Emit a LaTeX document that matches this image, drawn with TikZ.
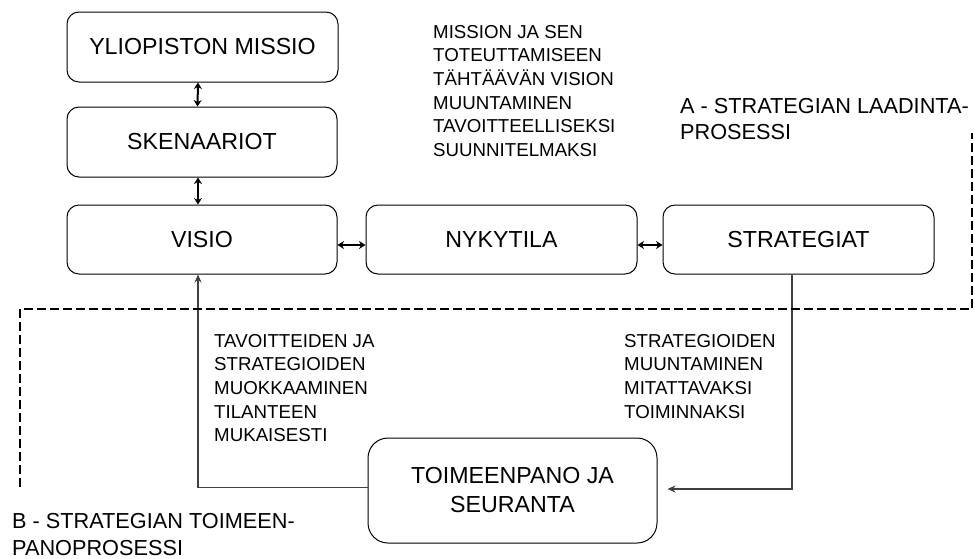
\documentclass[tikz,border=0pt]{standalone}
\usepackage{fontspec}
\setmainfont{Liberation Sans}
\usetikzlibrary{arrows.meta}
\begin{document}
\begin{tikzpicture}[x=1pt,y=-1pt,
 box/.style={draw, line width=1pt, rounded corners=12pt, inner sep=0pt, align=center, font=\fontsize{23.2}{29}\selectfont},
 lbl/.style={anchor=north west, inner sep=0pt, align=left, font=\fontsize{18.7}{23.6}\selectfont},
 biglbl/.style={anchor=north west, inner sep=0pt, align=left, font=\fontsize{21.7}{26}\selectfont},
 dbl/.style={{Stealth[length=6.5pt,width=8pt]}-{Stealth[length=6.5pt,width=8pt]}, line width=2pt},
 flow/.style={line width=1.8pt, draw=black!75, -{Stealth[length=8pt,width=7pt]}},
 dsh/.style={line width=2pt, dash pattern=on 9pt off 4pt}]
\useasboundingbox (0,0) rectangle (975,558);

\node[box, minimum width=271pt, minimum height=70pt] (missio) at (202.5,47) {YLIOPISTON MISSIO};
\node[box, minimum width=270pt, minimum height=70pt] (sken) at (202,142) {SKENAARIOT};
\node[box, minimum width=270pt, minimum height=69pt] (visio) at (202,239.5) {VISIO};
\node[box, minimum width=271pt, minimum height=69pt] (nyky) at (501.5,239.5) {NYKYTILA};
\node[box, minimum width=271pt, minimum height=69pt] (strat) at (798.5,239.5) {STRATEGIAT};
\node[box, rounded corners=20pt, minimum width=289pt, minimum height=105pt] (toim) at (512.5,490.5) {TOIMEENPANO JA\\SEURANTA};

\draw[dbl] ([xshift=-4.5pt]missio.south) -- ([xshift=-4.5pt]sken.north);
\draw[dbl] ([xshift=-4pt]sken.south) -- ([xshift=-4pt]visio.north);
\draw[dbl] ([yshift=-5.5pt]visio.east) -- ([yshift=-5.5pt]nyky.west);
\draw[dbl] ([yshift=-5.5pt]nyky.east) -- ([yshift=-5.5pt]strat.west);

\draw[flow] ([xshift=-6.5pt]strat.south) |- ([xshift=10pt,yshift=1.5pt]toim.east);
\draw[flow] ([yshift=3pt]toim.west) -| ([xshift=-4pt]visio.south);

\draw[dsh] (20,487) -- (20,309) -- (972,309) -- (972,133);

\node[lbl] (mtext) at (433,25) {MISSION JA SEN\\TOTEUTTAMISEEN\\TÄHTÄÄVÄN VISION\\MUUNTAMINEN\\TAVOITTEELLISEKSI\\SUUNNITELMAKSI};
\node[biglbl] (alabel) at (680,98) {A - STRATEGIAN LAADINTA-\\PROSESSI};
\node[lbl] (ltext) at (214,334) {TAVOITTEIDEN JA\\STRATEGIOIDEN\\MUOKKAAMINEN\\TILANTEEN\\MUKAISESTI};
\node[lbl] (rtext) at (624,334) {STRATEGIOIDEN\\MUUNTAMINEN\\MITATTAVAKSI\\TOIMINNAKSI};
\node[biglbl, font=\fontsize{21.7}{27}\selectfont] (blabel) at (12,513) {B - STRATEGIAN TOIMEEN-\\PANOPROSESSI};
\end{tikzpicture}
\end{document}
